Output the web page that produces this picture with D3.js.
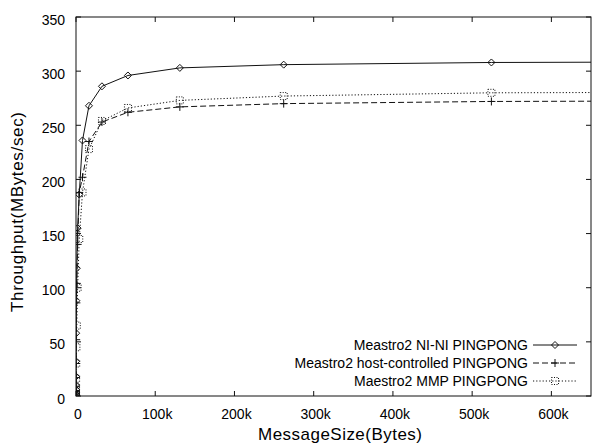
<!DOCTYPE html>
<html>
<head>
<meta charset="utf-8">
<script src="https://cdn.jsdelivr.net/npm/d3@7"></script>
<style>
  body { margin: 0; background: #fff; }
  svg { font-family: "Liberation Sans", Arial, Helvetica, sans-serif; }
  .frame { fill: none; stroke: #111; stroke-width: 1; }
  .tick-line { stroke: #111; stroke-width: 1; }
  .series { fill: none; stroke: #111; stroke-width: 1; }
</style>
</head>
<body>
<svg id="chart"></svg>
<script>
// message sizes in bytes (last point lies past the right edge and gets clipped)
const sizes = [4, 8, 16, 32, 64, 128, 256, 512, 1024, 2048, 4096, 8192,
  16384, 32768, 65536, 131072, 262144, 524288, 1048576];

// throughput in MBytes/sec
const niNi = [1.5, 3, 6, 10, 18, 32, 58, 88, 118, 155, 186, 236,
  268, 286, 296, 303, 306, 308, 309];
const hostCtrl = [1, 2.5, 5, 9, 17, 30, 52, 86, 104, 140, 188, 202,
  235, 253, 262, 267, 270, 272, 273];
const mmp = [0.5, 1, 2, 4, 8, 16, 30, 45, 65, 100, 145, 188,
  228, 254, 266, 273, 277, 280, 281];

const seriesNames = ["Meastro2 NI-NI PINGPONG",
  "Meastro2 host-controlled PINGPONG",
  "Maestro2 MMP PINGPONG"];

const xTicks = [0, 100000, 200000, 300000, 400000, 500000, 600000];
const yTicks = [0, 50, 100, 150, 200, 250, 300, 350];

// set the dimensions of the plot box
var width = 592, height = 448;
var box = { left: 76, right: 591, top: 17, bottom: 396 };

var svg = d3.select("#chart")
  .attr("width", width)
  .attr("height", height);

var x = d3.scaleLinear().domain([0, 650000]).range([box.left, box.right]);
var y = d3.scaleLinear().domain([0, 350]).range([box.bottom, box.top]);

svg.append("defs").append("clipPath")
  .attr("id", "plot-clip")
  .append("rect")
  .attr("x", box.left).attr("y", box.top)
  .attr("width", box.right - box.left)
  .attr("height", box.bottom - box.top);

// ticks on all four sides, pointing inward
var tickLen = 5;
var g = svg.append("g");

xTicks.forEach(function (t) {
  g.append("line").attr("class", "tick-line")
    .attr("x1", x(t)).attr("x2", x(t))
    .attr("y1", box.bottom).attr("y2", box.bottom - tickLen);
  g.append("line").attr("class", "tick-line")
    .attr("x1", x(t)).attr("x2", x(t))
    .attr("y1", box.top).attr("y2", box.top + tickLen);
  g.append("text")
    .attr("x", x(t) + 2).attr("y", 419)
    .attr("text-anchor", "middle")
    .style("font-size", "14px")
    .text(t === 0 ? "0" : (t / 1000) + "k");
});

yTicks.forEach(function (t) {
  g.append("line").attr("class", "tick-line")
    .attr("x1", box.left).attr("x2", box.left + tickLen)
    .attr("y1", y(t)).attr("y2", y(t));
  g.append("line").attr("class", "tick-line")
    .attr("x1", box.right).attr("x2", box.right - tickLen)
    .attr("y1", y(t)).attr("y2", y(t));
  g.append("text")
    .attr("x", 65).attr("y", y(t) + 7.5)
    .attr("text-anchor", "end")
    .style("font-size", "14px")
    .text(t);
});

g.append("rect").attr("class", "frame")
  .attr("x", box.left).attr("y", box.top)
  .attr("width", box.right - box.left)
  .attr("height", box.bottom - box.top);

// axis titles
svg.append("text")
  .attr("x", 340).attr("y", 440)
  .attr("text-anchor", "middle")
  .attr("textLength", 164)
  .style("font-size", "17px")
  .text("MessageSize(Bytes)");

svg.append("text")
  .attr("transform", "translate(23,212) rotate(-90)")
  .attr("text-anchor", "middle")
  .attr("textLength", 200)
  .style("font-size", "17px")
  .text("Throughput(MBytes/sec)");

// marker shapes, one per series
const markers = [
  function (sel, cx, cy) {   // diamond
    sel.append("path").attr("class", "series")
      .attr("d", "M" + cx + "," + (cy - 3.5) + "L" + (cx + 3.5) + "," + cy +
        "L" + cx + "," + (cy + 3.5) + "L" + (cx - 3.5) + "," + cy + "Z");
  },
  function (sel, cx, cy) {   // plus
    sel.append("path").attr("class", "series")
      .attr("d", "M" + (cx - 4) + "," + cy + "H" + (cx + 4) +
        "M" + cx + "," + (cy - 4) + "V" + (cy + 4));
  },
  function (sel, cx, cy) {   // dotted box
    sel.append("rect").attr("class", "series")
      .attr("stroke-dasharray", "1,1.5")
      .attr("x", cx - 3.5).attr("y", cy - 3.5)
      .attr("width", 7).attr("height", 7);
  }
];
const dashes = [null, "6,3", "1.2,2"];
const allSeries = [niNi, hostCtrl, mmp];

var plot = svg.append("g").attr("clip-path", "url(#plot-clip)");

var line = d3.line()
  .x(function (d) { return x(d[0]); })
  .y(function (d) { return y(d[1]); });

allSeries.forEach(function (vals, i) {
  var pts = sizes.map(function (s, j) { return [s, vals[j]]; });
  plot.append("path").attr("class", "series")
    .attr("stroke-dasharray", dashes[i])
    .attr("d", line(pts));
  pts.forEach(function (p) {
    markers[i](plot, x(p[0]), y(p[1]));
  });
});

// legend, bottom right inside the box
var legend = svg.append("g");
seriesNames.forEach(function (name, i) {
  var ly = 345 + i * 18;
  legend.append("text")
    .attr("x", 528).attr("y", ly + 5)
    .attr("text-anchor", "end")
    .style("font-size", "14px")
    .text(name);
  legend.append("line").attr("class", "series")
    .attr("stroke-dasharray", dashes[i])
    .attr("x1", 533).attr("x2", 577)
    .attr("y1", ly).attr("y2", ly);
  markers[i](legend, 555, ly);
});
</script>
</body>
</html>
